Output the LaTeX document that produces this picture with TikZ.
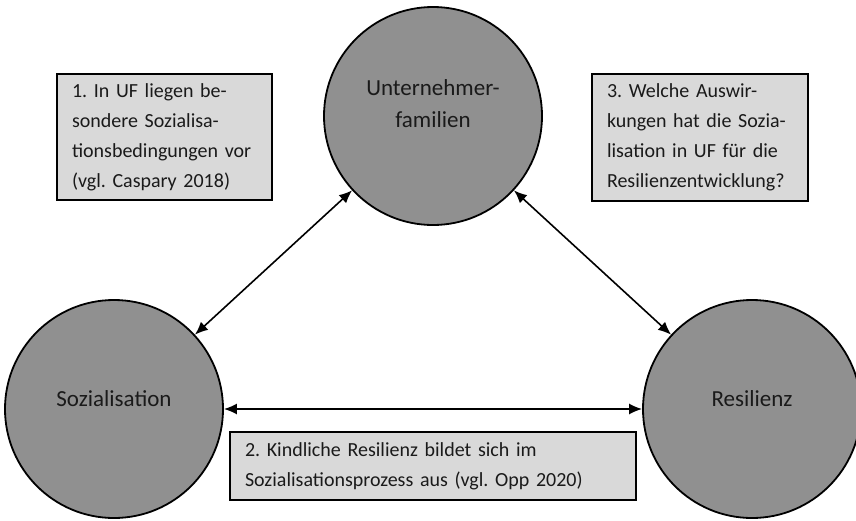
\documentclass[tikz,border=0pt]{standalone}
\usepackage{fontspec}
\setmainfont{Carlito}
\usetikzlibrary{arrows.meta}
\definecolor{circlegray}{RGB}{144,144,144}
\definecolor{boxgray}{RGB}{217,217,217}
\definecolor{textdark}{RGB}{26,26,26}
\frenchspacing
\tikzset{
  topic/.style={circle, draw=black, line width=0.9pt, fill=circlegray,
    minimum size=109pt, inner sep=0pt},
  topiclabel/.style={text=textdark, align=center,
    font=\fontsize{11.5}{16}\selectfont},
  notebox/.style={rectangle, draw=black, line width=1pt, fill=boxgray,
    align=left, inner xsep=7.5pt, text=textdark,
    font=\fontsize{10}{15}\selectfont},
  link/.style={{Latex[length=6.5pt,width=5.5pt]}-{Latex[length=6.5pt,width=5.5pt]},
    line width=0.8pt}
}
\begin{document}
\begin{tikzpicture}[x=0.5pt, y=-0.5pt]
    \useasboundingbox (0,0) rectangle (856,520);

    % Circles
    \node[topic] (uf)  at (433,116) {};
    \node[topic] (soz) at (114,409) {};
    \node[topic] (res) at (752,409) {};
    \node[topiclabel] (uflabel)  at (433,104) {Unternehmer-\\familien};
    \node[topiclabel] (sozlabel) at (114,399) {Sozialisation};
    \node[topiclabel] (reslabel) at (752,399) {Resilienz};

    % Connections
    \draw[link] (uf) -- (soz);
    \draw[link] (uf) -- (res);
    \draw[link] (soz) -- (res);

    % Notes
    \node[notebox, text width=92.5pt, minimum height=63pt] (note1) at (164.5,137)
      {1. In UF liegen be-\\sondere Sozialisa-\\tionsbedingungen vor\\(vgl. Caspary 2018)};
    \node[notebox, text width=93pt, minimum height=63.5pt] (note3) at (700,137.5)
      {3. Welche Auswir-\\kungen hat die Sozia-\\lisation in UF für die\\Resilienzentwicklung?};
    \node[notebox, text width=188pt, minimum height=34pt] (note2) at (433,466)
      {2. Kindliche Resilienz bildet sich im\\Sozialisationsprozess aus (vgl. Opp 2020)};
\end{tikzpicture}
\end{document}
